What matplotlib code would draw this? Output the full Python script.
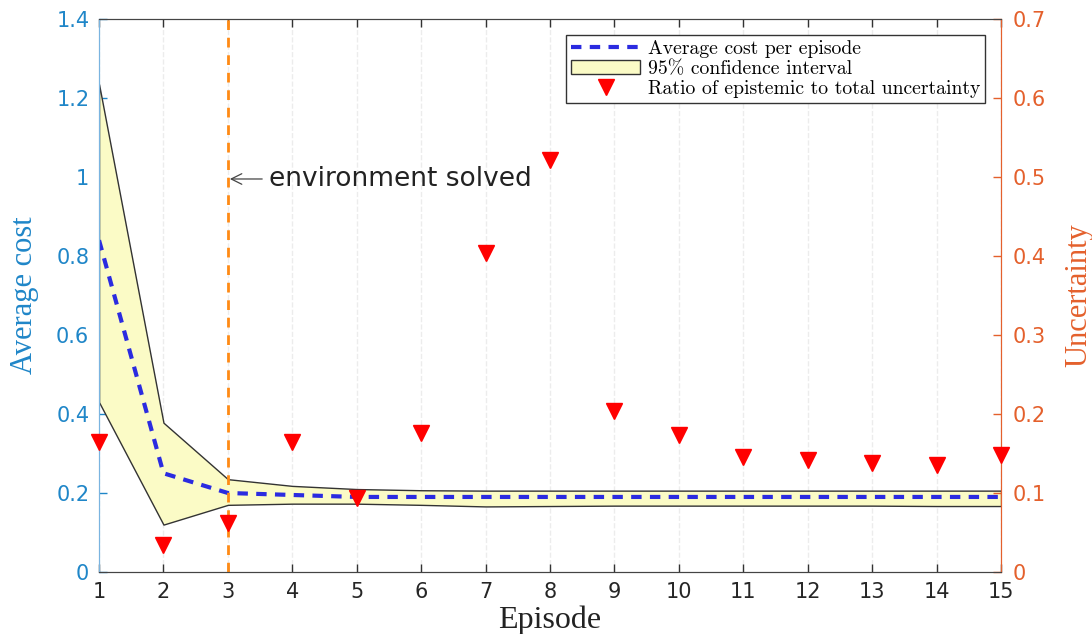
import numpy as np
from matplotlib import pyplot as plt
from matplotlib.ticker import FuncFormatter

# per-episode cost statistics and uncertainty ratio
episodes = np.arange(1, 16)
avg_cost = [0.84, 0.25, 0.20, 0.195, 0.19, 0.19, 0.19, 0.19, 0.19, 0.19, 0.19, 0.19, 0.19, 0.19, 0.19]
ci_upper = [1.235, 0.378, 0.235, 0.218, 0.21, 0.207, 0.206, 0.206, 0.206, 0.206, 0.206, 0.206, 0.206, 0.206, 0.206]
ci_lower = [0.43, 0.12, 0.17, 0.173, 0.173, 0.17, 0.166, 0.167, 0.168, 0.168, 0.168, 0.168, 0.168, 0.167, 0.167]
ratio = [0.165, 0.034, 0.062, 0.165, 0.094, 0.176, 0.404, 0.521, 0.204, 0.173, 0.146, 0.142, 0.138, 0.136, 0.148]
solved_ep = 3

blue = '#1f86c8'
orange = '#e4602c'
fmt = FuncFormatter(lambda v, p: '%g' % round(v, 3))

fig = plt.figure(figsize=(10.92, 6.34), dpi=100)
ax = fig.add_axes([0.0907, 0.0978, 0.826, 0.8722])
ax2 = ax.twinx()

ax.set_axisbelow(True)
ax.grid(axis='x', color='#ececec', linestyle='--', linewidth=1)

band = ax.fill_between(episodes, ci_lower, ci_upper, facecolor='#fbfbc6', edgecolor='#333333',
                       linewidth=1.0, label='95% confidence interval', zorder=2)
line, = ax.plot(episodes, avg_cost, color='#2b2be0', linestyle='--', linewidth=3,
                dashes=(2.5, 2), label='Average cost per episode', zorder=3)
ax.axvline(solved_ep, color='#ff8a14', linestyle='--', linewidth=2, dashes=(3.5, 2.8), zorder=4)
ax.annotate('environment solved', xy=(solved_ep + 0.03, 0.995), xytext=(solved_ep + 0.64, 0.995),
            fontsize=19, color='#222222', va='center', ha='left',
            arrowprops=dict(arrowstyle='->', color='#444444', lw=0.9, shrinkA=3, shrinkB=0))

tri, = ax2.plot(episodes, ratio, linestyle='none', marker='v', markersize=11, color='#ff0000',
                clip_on=False, label='Ratio of epistemic to total uncertainty', zorder=5)

ax.set_xlim(1, 15)
ax.set_ylim(0, 1.4)
ax2.set_ylim(0, 0.7)
ax.set_xticks(episodes)
ax.set_yticks(np.arange(0, 1.41, 0.2))
ax2.set_yticks(np.arange(0, 0.71, 0.1))
ax.yaxis.set_major_formatter(fmt)
ax2.yaxis.set_major_formatter(fmt)

ax.tick_params(axis='x', direction='in', top=True, length=6, width=1, pad=7,
               labelsize=15, colors='#333333', labelcolor='#262626')
ax.tick_params(axis='y', direction='in', length=6, width=1, pad=7, labelsize=15,
               colors=blue)
ax2.tick_params(axis='y', direction='in', length=6, width=1, pad=8, labelsize=15,
                colors=orange)

for a in (ax, ax2):
    a.spines['top'].set_color('#444444')
    a.spines['bottom'].set_color('#444444')
    a.spines['left'].set_color('#7ab4e0')
    a.spines['right'].set_color(orange)

ax.set_xlabel('Episode', family='Liberation Serif', fontsize=23, color='#222222', labelpad=3)
ax.set_ylabel('Average cost', family='Liberation Serif', fontsize=22, color=blue, labelpad=12)
ax2.set_ylabel('Uncertainty', family='Liberation Serif', fontsize=22, color=orange, labelpad=14)

leg = ax2.legend([line, band, tri], [line.get_label(), band.get_label(), tri.get_label()],
                 loc='upper right', prop={'family': 'cmr10', 'size': 14.2}, frameon=True,
                 fancybox=False, framealpha=1, edgecolor='#333333', borderaxespad=0.8,
                 handlelength=3.5, handletextpad=0.4, labelspacing=0.12, borderpad=0.25)
leg.get_frame().set_linewidth(1.0)

fig.savefig('out.png', dpi=100)
